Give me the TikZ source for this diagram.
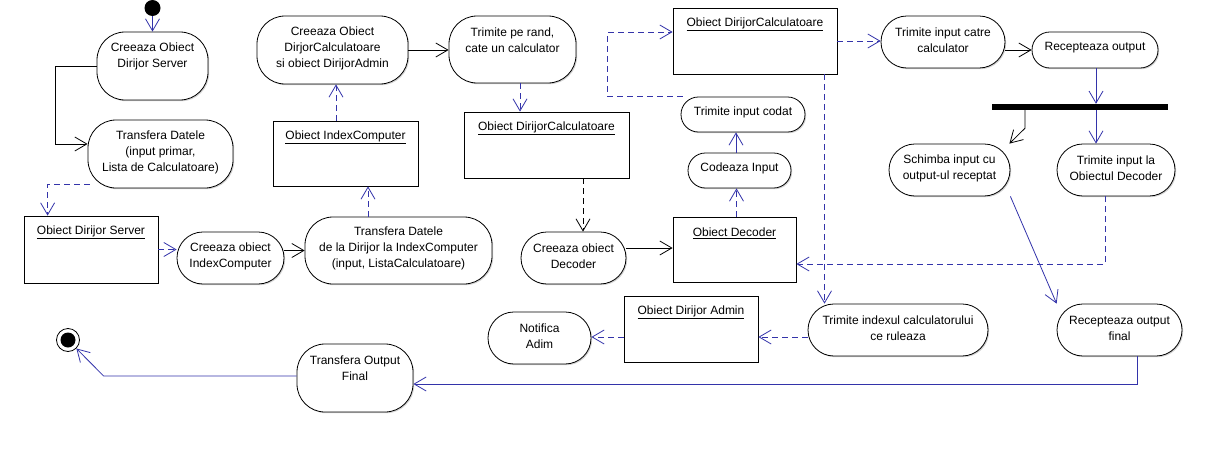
\documentclass[tikz,border=0pt]{standalone}
\usepackage{fontspec}
\setmainfont{Liberation Sans}
\usetikzlibrary{arrows.meta,shadows,calc}
\definecolor{linkblue}{RGB}{51,51,170}
\begin{document}
\begin{tikzpicture}[x=1pt,y=-1pt,
  shd/.style={drop shadow={shadow xshift=1.2pt,shadow yshift=-1.2pt,fill=black!35}},
  act/.style={draw, line width=0.8pt, inner sep=0pt, fill=white, rounded corners=#1, shd},
  obj/.style={draw, line width=0.8pt, inner sep=0pt, fill=white, shd},
  lbl/.style={font=\fontsize{12}{16}\selectfont, align=center, inner sep=0pt},
  tip/.style={-{Straight Barb[length=12pt,width=14pt]}},
  blu/.style={draw=linkblue, line width=0.8pt, tip},
  dep/.style={blu, dash pattern=on 6pt off 4pt},
  blk/.style={draw=black, line width=0.8pt, tip},
  depblk/.style={blk, dash pattern=on 6pt off 4pt}]
\useasboundingbox[fill=white] (0,0) rectangle (1206,460);

% start / end
\node[circle, fill=black, minimum size=16pt, inner sep=0pt] (start) at (152.5,8) {};
\node[circle, draw, line width=0.8pt, fill=white, minimum size=23pt, inner sep=0pt] (end) at (68,340) {};
\node[circle, fill=black, minimum size=15pt, inner sep=0pt] (endin) at (end.center) {};

% activities
\node[act=28pt, minimum width=111pt, minimum height=68pt] (A1) at (152.5,66) {};
\node[lbl] (tA1) at ([yshift=10pt]A1.center) {Creeaza Obiect\\Dirijor Server};
\node[act=28pt, minimum width=145pt, minimum height=68pt] (A2) at (160.5,154) {};
\node[lbl] (tA2) at ([yshift=2pt]A2.center) {Transfera Datele\\(input primar,\\Lista de Calculatoare)};
\node[act=25.9pt, minimum width=107pt, minimum height=52pt] (A3) at (230.5,258) {};
\node[lbl] (tA3) at ([yshift=2pt]A3.center) {Creeaza obiect\\IndexComputer};
\node[act=28pt, minimum width=187pt, minimum height=67pt] (A4) at (398.5,250.5) {};
\node[lbl] (tA4) at ([yshift=2.5pt]A4.center) {Transfera Datele\\de la Dirijor la IndexComputer\\(input, ListaCalculatoare)};
\node[act=28pt, minimum width=151pt, minimum height=68pt] (A5) at (332.5,50) {};
\node[lbl] (tA5) at ([yshift=2pt]A5.center) {Creeaza Obiect\\DirjorCalculatoare\\si obiect DirijorAdmin};
\node[act=28pt, minimum width=127pt, minimum height=67pt] (A6) at (512.5,49.5) {};
\node[lbl] (tA6) at ([yshift=9.5pt]A6.center) {Trimite pe rand,\\cate un calculator};
\node[act=25.9pt, minimum width=105pt, minimum height=52pt] (A7) at (573.5,258) {};
\node[lbl] (tA7) at ([yshift=2pt]A7.center) {Creeaza obiect\\Decoder};
\node[act=17.4pt, minimum width=103pt, minimum height=35pt] (A8) at (739.5,170.5) {};
\node[lbl] (tA8) at ([yshift=2.5pt]A8.center) {Codeaza Input};
\node[act=17.4pt, minimum width=124pt, minimum height=35pt] (A9) at (743,114.5) {};
\node[lbl] (tA9) at ([yshift=2.5pt]A9.center) {Trimite input codat};
\node[act=25.9pt, minimum width=124pt, minimum height=52pt] (A10) at (943,42) {};
\node[lbl] (tA10) at ([yshift=2pt]A10.center) {Trimite input catre\\calculator};
\node[act=17.9pt, minimum width=126pt, minimum height=36pt] (A11) at (1095,50) {};
\node[lbl] (tA11) at ([yshift=2pt]A11.center) {Recepteaza output};
\node[act=25.9pt, minimum width=121pt, minimum height=52pt] (A12) at (949.5,170) {};
\node[lbl] (tA12) at ([yshift=2pt]A12.center) {Schimba input cu\\output-ul receptat};
\node[act=25.9pt, minimum width=118pt, minimum height=52pt] (A13) at (1116,170) {};
\node[lbl] (tA13) at ([yshift=2pt]A13.center) {Trimite input la\\Obiectul Decoder};
\node[act=25.9pt, minimum width=180pt, minimum height=52pt] (A14) at (898,330) {};
\node[lbl] (tA14) at ([yshift=2pt]A14.center) {Trimite indexul calculatorului\\ce ruleaza};
\node[act=25.9pt, minimum width=125pt, minimum height=52pt] (A15) at (1119.5,330) {};
\node[lbl] (tA15) at ([yshift=2pt]A15.center) {Recepteaza output\\final};
\node[act=25.9pt, minimum width=103pt, minimum height=52pt] (A16) at (539.5,338) {};
\node[lbl] (tA16) at ([yshift=2pt]A16.center) {Notifica\\Adim};
\node[act=28pt, minimum width=116pt, minimum height=68pt] (A17) at (355,378) {};
\node[lbl] (tA17) at ([yshift=10pt]A17.center) {Transfera Output\\Final};

% objects
\node[obj, minimum width=134pt, minimum height=67pt] (B1) at (91,249.5) {};
\node[lbl] (tB1) at ([yshift=-17pt]B1.north) {\underline{Obiect Dirijor Server}};
\node[obj, minimum width=145pt, minimum height=65pt] (B2) at (345.5,153.5) {};
\node[lbl] (tB2) at ([yshift=-17pt]B2.north) {\underline{Obiect IndexComputer}};
\node[obj, minimum width=165pt, minimum height=66pt] (B3) at (546.5,145) {};
\node[lbl] (tB3) at ([yshift=-17pt]B3.north) {\underline{Obiect DirijorCalculatoare}};
\node[obj, minimum width=123pt, minimum height=65pt] (B4) at (734.5,249.5) {};
\node[lbl] (tB4) at ([yshift=-17pt]B4.north) {\underline{Obiect Decoder}};
\node[obj, minimum width=164pt, minimum height=66pt] (B5) at (755,41) {};
\node[lbl] (tB5) at ([yshift=-17pt]B5.north) {\underline{Obiect DirijorCalculatoare}};
\node[obj, minimum width=134pt, minimum height=66pt] (B6) at (691,329) {};
\node[lbl] (tB6) at ([yshift=-17pt]B6.north) {\underline{Obiect Dirijor Admin}};

% fork bar
\node[fill=black, minimum width=176pt, minimum height=6pt, inner sep=0pt] (bar) at (1080,107) {};

% connectors
\draw[blu] (start) -- (A1);
\draw[blk] (A1.west) -- ++(-41,0) |- ([yshift=10pt]A2.west);
\draw[dep] ([shift={(2,-4)}]A2.south west) -| ([xshift=24pt]B1.north west);
\draw[dep] (B1.east) -- (B1.east -| A3.west);
\draw[blk] (A4.west -| A3.east) -- (A4.west);
\draw[dep] ([xshift=22.5pt]B2.south |- A4.north) -- ([xshift=22.5pt]B2.south);
\draw[dep] ([xshift=-9.5pt]B2.north) -- ([xshift=-9.5pt]B2.north |- A5.south);
\draw[blk] (A5.east) -- (A5.east -| A6.west);
\draw[dep] ([xshift=7.5pt]A6.south) -- ([xshift=7.5pt]A6.south |- B3.north);
\draw[depblk] ([xshift=9.5pt]A7.north |- B3.south) -- ([xshift=9.5pt]A7.north);
\draw[blk] ([yshift=10pt]A7.east) -- ([yshift=10pt]A7.east -| B4.west);
\draw[dep] ([xshift=2pt]B4.north) -- ([xshift=2pt]B4.north |- A8.south);
\draw[blu] ([xshift=-3.5pt]A8.north) -- ([xshift=-3.5pt]A8.north |- A9.south);
\draw[dep] ([xshift=2pt]A9.north west) -- ++(-75,0) |- ([yshift=9pt]B5.west);
\draw[dep] (B5.east) -- (B5.east -| A10.west);
\draw[blk] (A11.west -| A10.east) -- (A11.west);
\draw[blu] ([xshift=1pt]A11.south) -- ([xshift=1pt]A11.south |- bar.north);
\draw[blu] ([xshift=-20pt]A13.north |- bar.south) -- ([xshift=-20pt]A13.north);
\draw[blk] ([xshift=-55pt]bar.south) -- ++(0,18) -- ([xshift=-1pt]A12.north east);
\draw[blu] (A12.south east) -- (A15.north west);
\draw[dep] ([xshift=-11pt]A13.south) |- ([yshift=-14.5pt]B4.east);
\draw[dep] ([xshift=69.5pt]B5.south) -- ([xshift=69.5pt]B5.south |- A14.north);
\draw[dep] ([yshift=-8pt]B6.east -| A14.west) -- ([yshift=-8pt]B6.east);
\draw[dep] ([yshift=-8pt]B6.west) -- ([yshift=-8pt]B6.west -| A16.east);
\draw[blu] ([xshift=17.5pt]A15.south) |- ([yshift=-6pt]A17.east);
\draw[blu] ([yshift=2pt]A17.west) -- ++(-193,0) -- (end);
\end{tikzpicture}
\end{document}
